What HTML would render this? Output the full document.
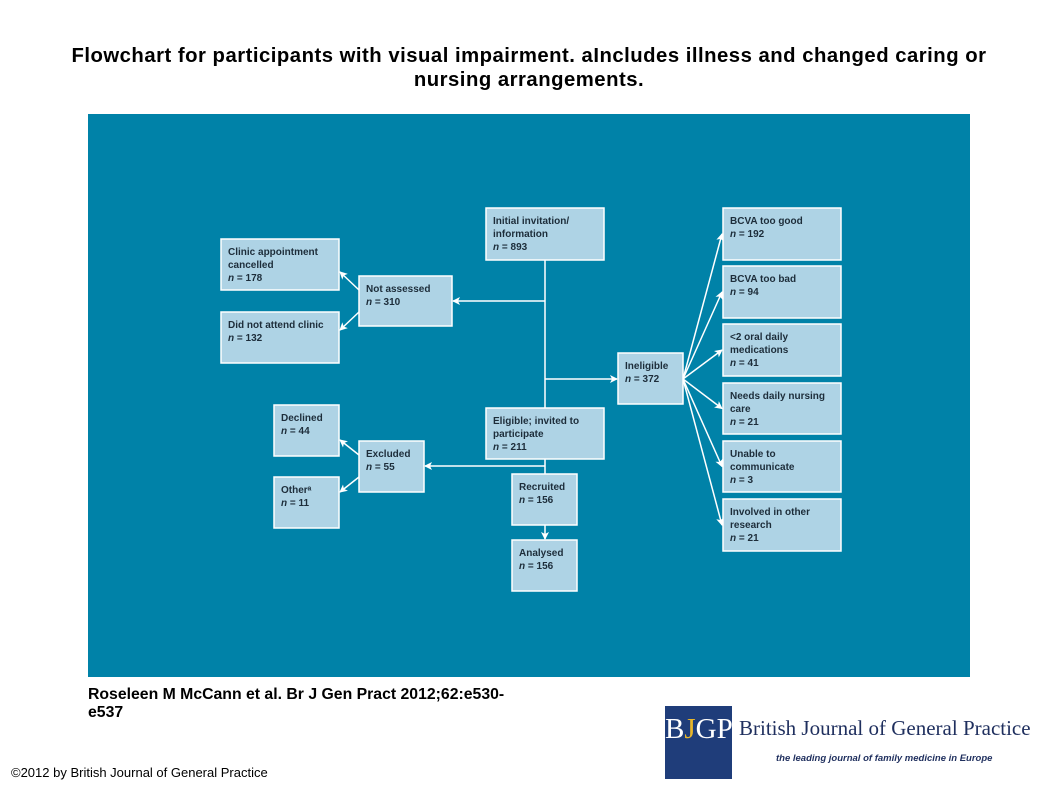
<!DOCTYPE html>
<html><head><meta charset="utf-8"><style>
body{margin:0;width:1058px;height:793px;background:#fff;font-family:"Liberation Sans",sans-serif;position:relative;overflow:hidden}
#title{position:absolute;left:0px;top:44px;width:1058px;text-align:center;font-weight:bold;font-size:20.3px;line-height:24px;color:#000;letter-spacing:0.5px;white-space:nowrap}
#cite{position:absolute;left:88px;top:686px;font-weight:bold;font-size:15.8px;line-height:18px;width:440px}
#copy{position:absolute;left:11px;top:765px;font-size:13px}
</style></head><body>
<div id="title">Flowchart for participants with visual impairment. aIncludes illness and changed caring or<br>nursing arrangements.</div>
<svg width="1058" height="793" style="position:absolute;left:0;top:0">
<defs><marker id="ar" markerWidth="8" markerHeight="8" refX="7" refY="4" orient="auto" markerUnits="userSpaceOnUse"><path d="M0,0L8,4L0,8L2,4z" fill="#fff"/></marker></defs>
<rect x="88" y="114" width="882" height="563" fill="#0082a8"/>
<g id="lines" stroke="#fff" stroke-width="1.5" fill="none"></g>
<g id="boxes" font-size="10" font-weight="bold" fill="#1d2d3a"></g>
</svg>
<div id="cite">Roseleen M McCann et al. Br J Gen Pract 2012;62:e530-<br>e537</div>
<div id="copy">©2012 by British Journal of General Practice</div>
<div style="position:absolute;left:665px;top:706px;width:67px;height:73px;background:#1f3d7a;color:#fff;font-family:'Liberation Serif',serif;font-size:29px;line-height:46px;text-align:center">B<span style="color:#e9b72a">J</span>GP</div>
<div style="position:absolute;left:739px;top:716px;font-family:'Liberation Serif',serif;font-size:21px;color:#1f2f5e">British Journal of General Practice</div>
<div style="position:absolute;left:776px;top:753px;font-size:9.5px;font-weight:bold;font-style:italic;color:#1f2f5e">the leading journal of family medicine in Europe</div>
<script>
const boxes=[
["initial",486,208,118,52,["Initial invitation/","information"],"893"],
["clinic-cancelled",221,239,118,51,["Clinic appointment","cancelled"],"178"],
["not-assessed",359,276,93,50,["Not assessed"],"310"],
["did-not-attend",221,312,118,51,["Did not attend clinic"],"132"],
["ineligible",618,353,65,51,["Ineligible"],"372"],
["eligible",486,408,118,51,["Eligible; invited to","participate"],"211"],
["declined",274,405,65,51,["Declined"],"44"],
["excluded",359,441,65,51,["Excluded"],"55"],
["other",274,477,65,51,["Otherᵃ"],"11"],
["recruited",512,474,65,51,["Recruited"],"156"],
["analysed",512,540,65,51,["Analysed"],"156"],
["bcva-good",723,208,118,52,["BCVA too good"],"192"],
["bcva-bad",723,266,118,52,["BCVA too bad"],"94"],
["oral-meds",723,324,118,52,["<2 oral daily","medications"],"41"],
["nursing-care",723,383,118,51,["Needs daily nursing","care"],"21"],
["unable-communicate",723,441,118,51,["Unable to","communicate"],"3"],
["other-research",723,499,118,52,["Involved in other","research"],"21"]];
const ns="http://www.w3.org/2000/svg";
const G=document.getElementById('boxes'),L=document.getElementById('lines');
for(const b of boxes){
 const g=document.createElementNS(ns,'g');
 
 
 const r=document.createElementNS(ns,'rect');
 r.setAttribute('x',b[1]);r.setAttribute('y',b[2]);r.setAttribute('width',b[3]);r.setAttribute('height',b[4]);
 r.setAttribute('fill','#aed3e5');r.setAttribute('stroke','#fff');r.setAttribute('stroke-width','1.5');
 g.appendChild(r);
 const lines=b[5].concat(['n = '+b[6]]);
 lines.forEach((s,i)=>{const t=document.createElementNS(ns,'text');t.setAttribute('x',b[1]+7);t.setAttribute('y',b[2]+16+i*13);
  if(i==lines.length-1){t.innerHTML='<tspan font-style="italic">n</tspan> = '+b[6];}else t.textContent=s;g.appendChild(t);});
 G.appendChild(g);
}
function ln(x1,y1,x2,y2,a){const l=document.createElementNS(ns,'line');l.setAttribute('x1',x1);l.setAttribute('y1',y1);l.setAttribute('x2',x2);l.setAttribute('y2',y2);if(a)l.setAttribute('marker-end','url(#ar)');
 
 
 L.appendChild(l);}
ln(545,260,545,474);ln(545,301,453,301,1);ln(545,379,617,379,1);ln(545,466,425,466,1);ln(545,525,545,539,1);
ln(359,290,340,272,1);ln(359,312,340,330,1);ln(359,455,340,440,1);ln(359,477,340,492,1);
for(const b of boxes.slice(11))ln(683,379,722,b[2]+b[4]/2,1);
</script>
</body></html>
